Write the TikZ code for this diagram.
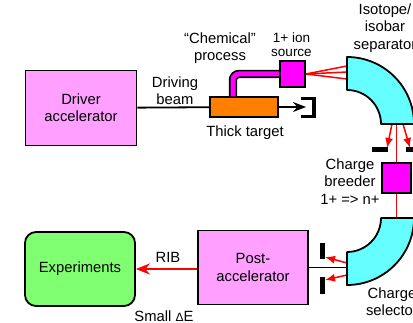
\documentclass[tikz,border=0pt]{standalone}
\usepackage{fontspec}
\setmainfont{Liberation Sans}
\usepackage{xcolor}
\usetikzlibrary{arrows.meta}
\definecolor{accpink}{HTML}{FF9FFF}
\definecolor{ionpink}{HTML}{FF00FF}
\definecolor{targetorange}{HTML}{FF8000}
\definecolor{magcyan}{HTML}{66FFFF}
\definecolor{expgreen}{HTML}{80FF70}
\tikzset{
  box/.style={draw,line width=1.8pt,inner sep=0pt,align=center},
  label/.style={inner sep=0pt,align=center},
  magnet/.style={draw,line width=1.8pt,fill=magcyan,line join=round},
  ray/.style={draw=red,line width=1.5pt},
  rayhead/.style={ray,-{Latex[length=10pt,width=8pt]}},
  stopper/.style={draw,line width=5pt}
}
\begin{document}
\begin{tikzpicture}[x=1pt,y=-1pt,every node/.append style={font=\fontsize{14.8}{17.3}\selectfont}]
\useasboundingbox (0,0) rectangle (413,323);

\node[box,fill=accpink,minimum width=111pt,minimum height=75pt] (driver) at (81,108) {Driver\\accelerator};
\node[box,fill=targetorange,minimum width=68pt,minimum height=20pt] (target) at (244,107) {};
\node[box,fill=ionpink,minimum width=25pt,minimum height=26pt] (source) at (292.5,74) {};
\node[box,fill=ionpink,minimum width=29pt,minimum height=30pt] (breeder) at (396.5,178) {};
\node[box,fill=accpink,minimum width=110pt,minimum height=74pt] (postacc) at (253,267.5) {Post-\\accelerator};
\node[box,fill=expgreen,rounded corners=11pt,minimum width=110pt,minimum height=74pt] (expts) at (80,269) {Experiments};

\coordinate (tubefoot) at (233,96.5);
\coordinate (stoptip) at (306,107);
\coordinate (fanA) at (347,66);
\coordinate (fanB) at (347,72);
\coordinate (fanC) at (347,79);
\coordinate (sepout) at (396.5,124);
\coordinate (sepoutA) at (392,124);
\coordinate (sepoutB) at (403,124);
\coordinate (sephitA) at (387,148);
\coordinate (sephitB) at (410,148);
\coordinate (selin) at (396.5,218);
\coordinate (selport) at (347,267.5);
\coordinate (seloutA) at (347,263);
\coordinate (seloutB) at (347,275);
\coordinate (selhitA) at (325,257);
\coordinate (selhitB) at (325,280);

\draw[line width=1.8pt] (driver) -- (target);
\draw[line width=1.8pt,-{Stealth[length=13pt,width=10pt]}] (target) -- (stoptip);
\draw[line width=3.5pt] (301,98.5) -- (314,98.5) -- (314,116.5) -- (301,116.5);
\draw[line width=1.7pt,double=ionpink,double distance=5pt,rounded corners=6pt] (tubefoot) |- (source.west);

\draw[ray] (source.east) -- (fanA);
\draw[ray] (source.east) -- (fanB);
\draw[ray] (source.east) -- (fanC);
\draw[ray] (sepout) -- (breeder);
\draw[ray] (breeder) -- (selin);
\draw[rayhead] (sepoutA) -- (sephitA);
\draw[rayhead] (sepoutB) -- (sephitB);
\draw[rayhead] (seloutA) -- (selhitA);
\draw[rayhead] (seloutB) -- (selhitB);
\draw[line width=1.8pt] (postacc) -- (selport);
\draw[red,line width=2.4pt,-{Stealth[length=14pt,width=11pt]}] (postacc.west |- expts) -- (expts);

\draw[magnet] (347,57) arc[start angle=90,end angle=0,radius=67pt] -- (381,124) arc[start angle=0,end angle=90,radius=34pt] -- cycle;
\draw[magnet] (381,218) arc[start angle=0,end angle=-90,radius=34pt] -- (347,285) arc[start angle=-90,end angle=0,radius=67pt] -- cycle;

\draw[stopper] (372,149.5) -- (388,149.5);
\draw[stopper] (406,149.5) -- (416,149.5);
\draw[stopper] (322.5,243) -- (322.5,259);
\draw[stopper] (322.5,277) -- (322.5,294);

\node[label] (beamlabel) at (175,90.5) {Driving\\beam};
\node[label] (targetlabel) at (245,133) {Thick target};
\node[label] (chemlabel) at (220,48.5) {``Chemical''\\process};
\node[label,font=\fontsize{13.5}{13.5}\selectfont] (sourcelabel) at (291.5,44.5) {1+ ion\\source};
\node[label] (seplabel) at (385,28) {Isotope/\\isobar\\separator};
\node[label] (breederlabel) at (350,181.5) {Charge\\breeder\\1+ => n+};
\node[label] (sellabel) at (392,301.5) {Charge\\selector};
\node[label] (riblabel) at (168,257) {RIB};
\node[label] (smalllabel) at (164,316) {Small {\fontsize{12}{12}\selectfont Δ}E};
\end{tikzpicture}
\end{document}
